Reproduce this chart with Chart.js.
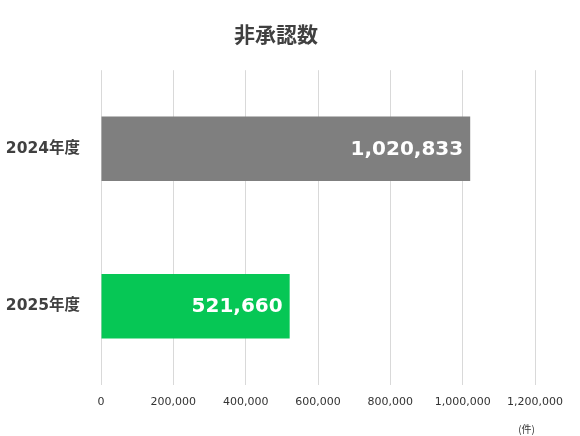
<!DOCTYPE html>
<html><head><meta charset="utf-8">
<script src="https://cdn.jsdelivr.net/npm/chart.js@4/dist/chart.umd.min.js"></script>
<style>html,body{margin:0;padding:0;background:#fff}#wrap{width:580px;height:436px}</style>
</head><body><div id="wrap"><canvas id="c"></canvas></div>
<script>
const categories = ["2024年度", "2025年度"];
const values = [1020833, 521660];
const barColors = ["#7f7f7f", "#06c755"];
const titleText = "非承認数";
const unitText = "(件)";
const xMin = 0, xMax = 1200000, xStep = 200000;

const FONT = "'Noto Sans CJK JP', 'Noto Sans', sans-serif";
const LATINFONT = "'DejaVu Sans', 'Noto Sans CJK JP', sans-serif";

const valueLabels = {
  id: 'valueLabels',
  afterDatasetsDraw(chart) {
    const ctx = chart.ctx;
    const meta = chart.getDatasetMeta(0);
    ctx.save();
    ctx.fillStyle = '#ffffff';
    ctx.font = "bold 20px " + LATINFONT;
    ctx.textAlign = 'right';
    ctx.textBaseline = 'middle';
    meta.data.forEach((bar, i) => {
      ctx.fillText(values[i].toLocaleString('en-US'), bar.x - 7, bar.y + 1);
    });
    ctx.restore();
  }
};

// Draws the title slightly right of the layout box centre (as in the reference)
const shiftedTitle = {
  id: 'shiftedTitle',
  afterDraw(chart) {
    const tb = chart.titleBlock;
    if (!tb) return;
    const ctx = chart.ctx;
    ctx.save();
    ctx.fillStyle = '#404040';
    ctx.font = "bold 21px " + FONT;
    ctx.textAlign = 'center';
    ctx.textBaseline = 'middle';
    const cx = (tb.left + tb.right) / 2 + 8.5;
    const cy = tb.top + 21 + 12.6;
    ctx.fillText(titleText, cx, cy);
    ctx.restore();
  }
};

new Chart(document.getElementById('c'), {
  type: 'bar',
  data: {
    labels: categories,
    datasets: [{ data: values, backgroundColor: barColors, borderWidth: 0,
      categoryPercentage: 1, barPercentage: 0.41 }]
  },
  options: {
    indexAxis: 'y',
    responsive: true,
    maintainAspectRatio: false,
    animation: false,
    layout: { padding: { left: 0, right: 45, top: 0, bottom: 1 } },
    plugins: {
      legend: { display: false },
      tooltip: { enabled: false },
      title: {
        display: true, text: titleText, color: 'rgba(0,0,0,0)',
        font: { family: FONT, size: 21, weight: 'bold' },
        padding: { top: 21, bottom: 24 }
      }
    },
    scales: {
      x: {
        min: xMin, max: xMax,
        ticks: { stepSize: xStep, color: '#333333', font: { family: LATINFONT, size: 11 },
          padding: 11, callback: v => v.toLocaleString('en-US') },
        grid: { color: '#d9d9d9', drawTicks: false },
        border: { display: false },
        title: { display: true, text: unitText, align: 'end', color: '#333333',
          font: { family: FONT, size: 10 }, padding: { top: 3, bottom: 0 } }
      },
      y: {
        ticks: { color: '#404040', font: { family: LATINFONT, size: 15.5, weight: 'bold' }, padding: 13 },
        grid: { display: false },
        border: { display: false },
        afterFit(s) { s.width = 101; }
      }
    }
  },
  plugins: [valueLabels, shiftedTitle]
});
</script></body></html>
